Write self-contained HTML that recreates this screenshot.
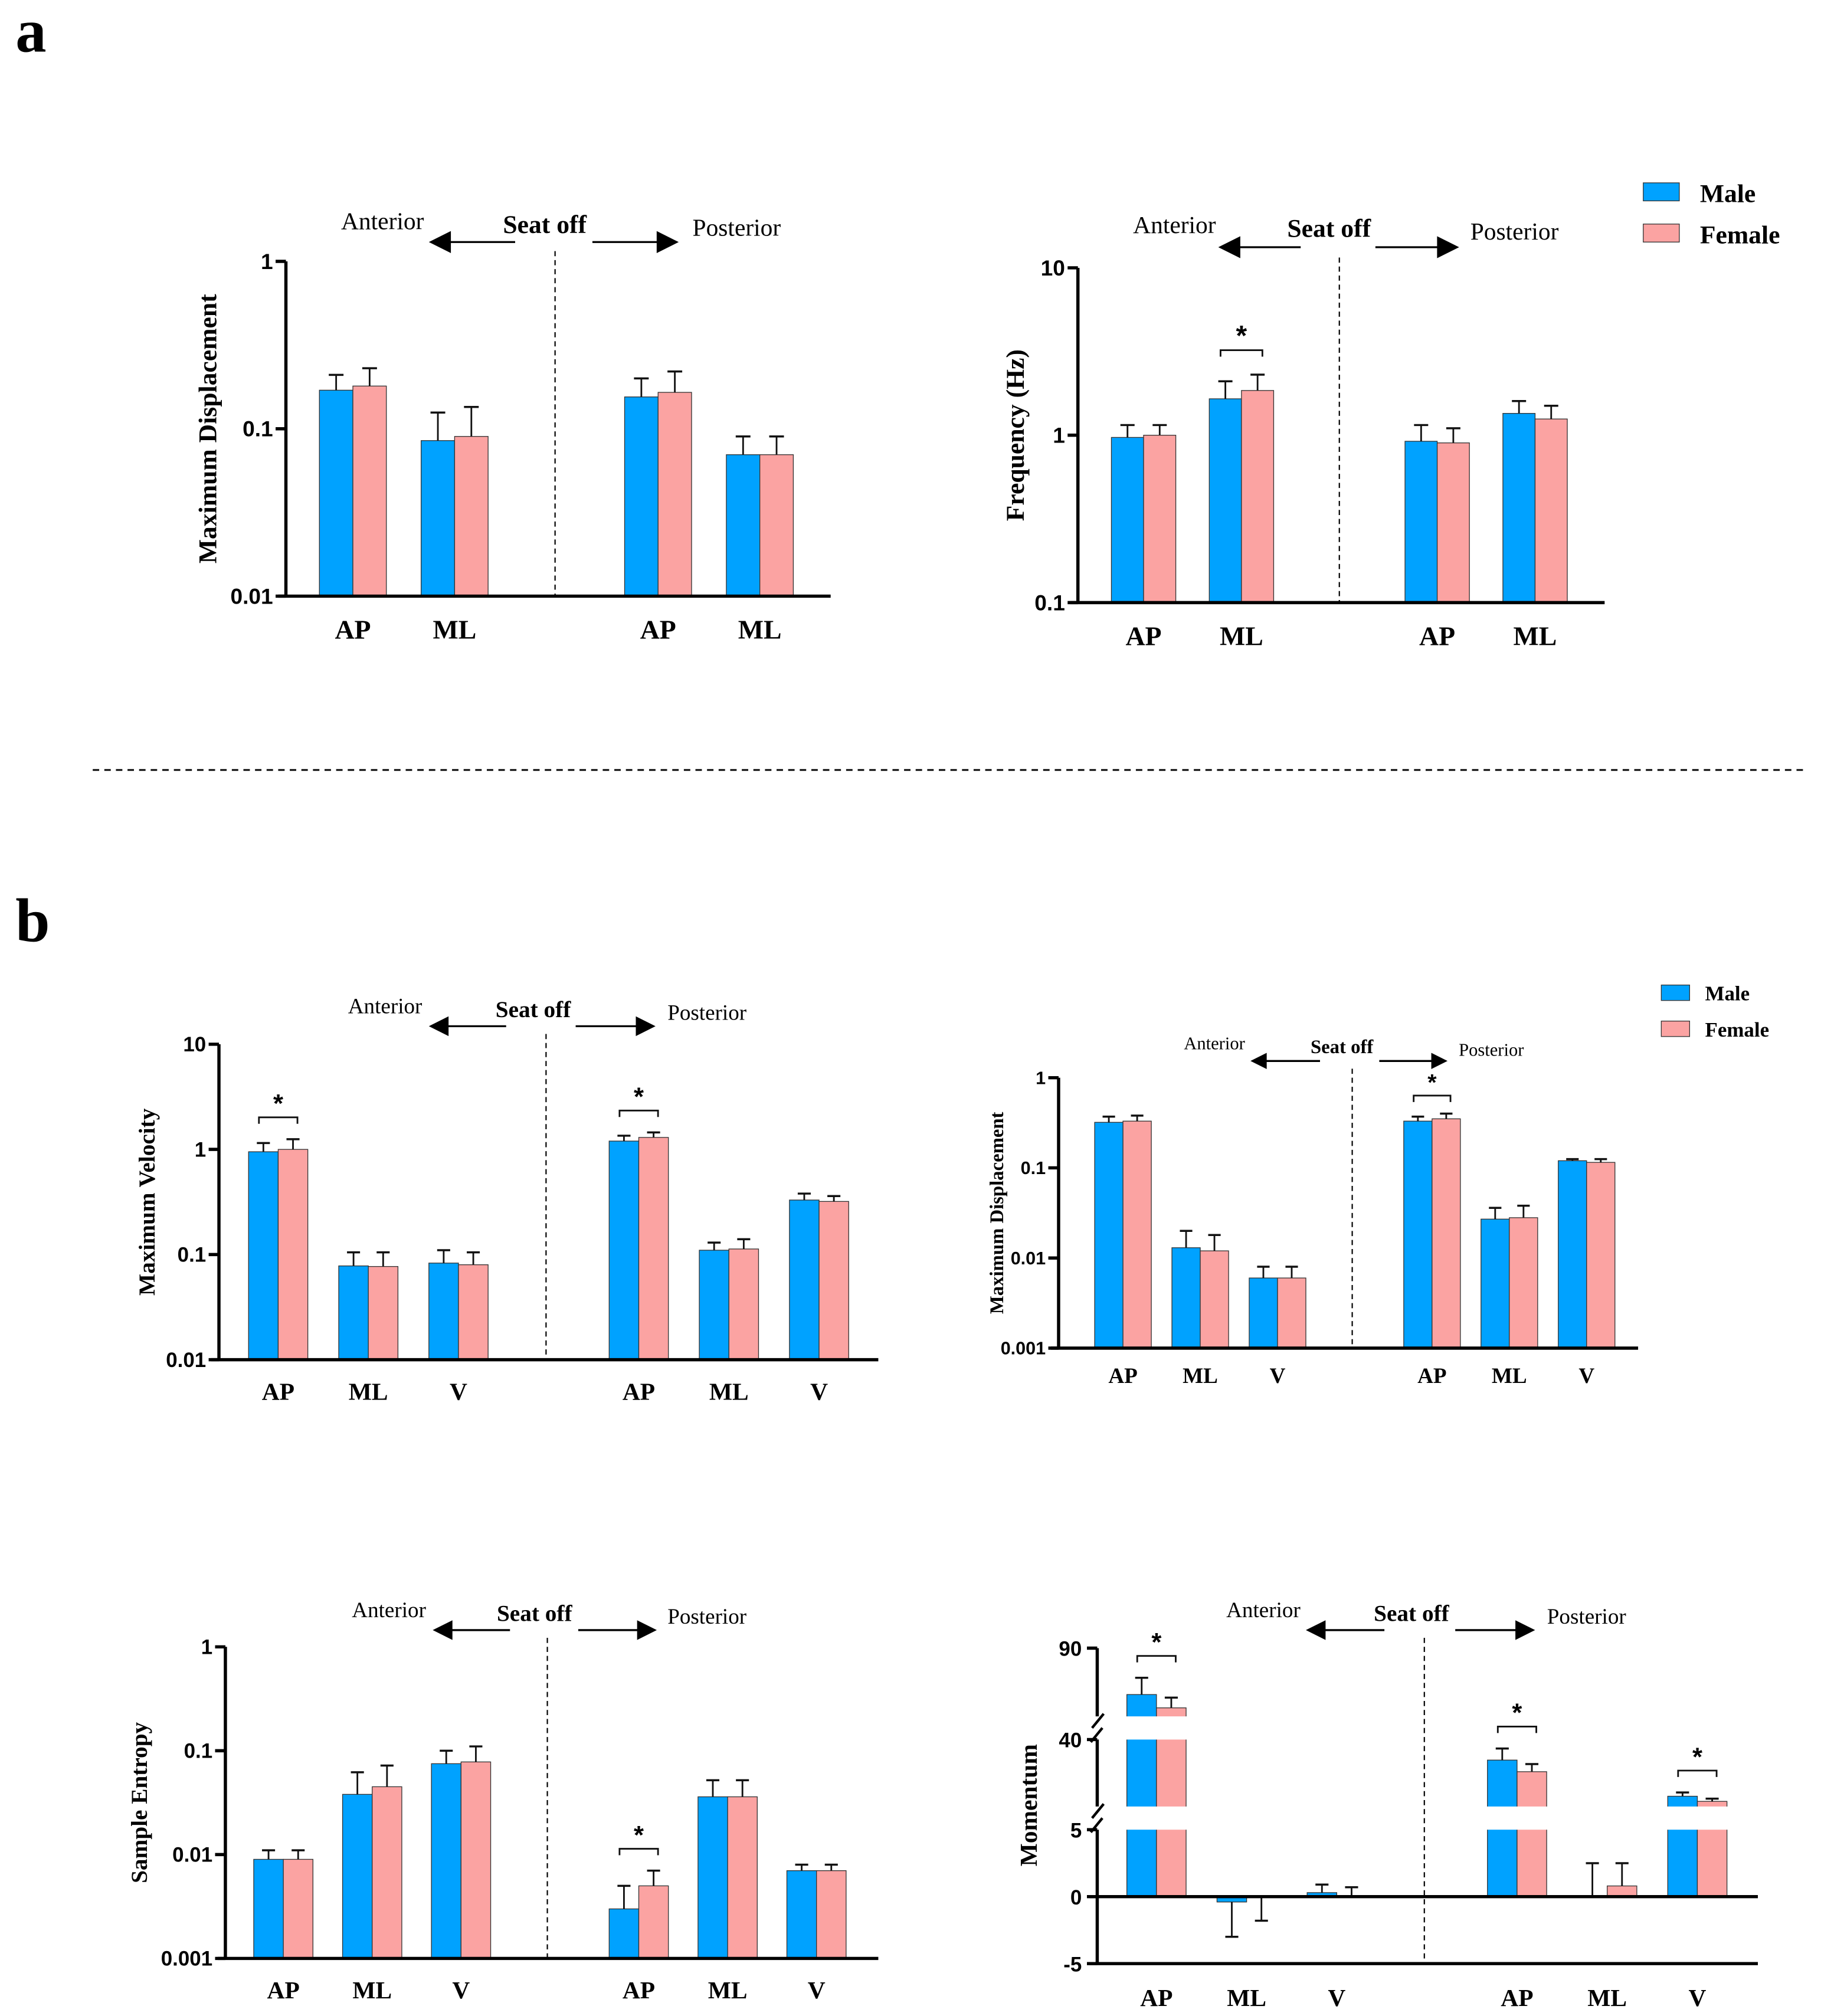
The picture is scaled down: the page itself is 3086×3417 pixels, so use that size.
<!DOCTYPE html>
<html><head><meta charset="utf-8"><style>
html,body{margin:0;padding:0;background:#fff;}
svg{display:block;}
text{font-family:"Liberation Serif",serif;fill:#000;}
.sans{font-family:"Liberation Sans",sans-serif;font-weight:bold;}
</style></head><body>
<svg id="fig" xmlns="http://www.w3.org/2000/svg" width="3086" height="3417" viewBox="0 0 1414 1565.7">
<rect x="0" y="0" width="1414" height="1566" fill="#fff"/>
<text x="12" y="40" font-size="48" font-weight="bold">a</text>
<text x="12" y="731" font-size="48" font-weight="bold">b</text>
<line x1="72" y1="598" x2="1400" y2="598" stroke="#000" stroke-width="1.3" stroke-dasharray="5,4"/>
<g>
<rect x="1276" y="142" width="28" height="14" fill="#00A2FF" stroke="#333" stroke-width="0.6"/>
<text x="1320" y="157" font-size="20" font-weight="bold">Male</text>
<rect x="1276" y="174" width="28" height="14" fill="#FBA3A2" stroke="#333" stroke-width="0.6"/>
<text x="1320" y="189" font-size="20" font-weight="bold">Female</text>
</g>
<g>
<rect x="1290" y="765" width="22" height="12" fill="#00A2FF" stroke="#333" stroke-width="0.6"/>
<text x="1324" y="777" font-size="16" font-weight="bold">Male</text>
<rect x="1290" y="793" width="22" height="12" fill="#FBA3A2" stroke="#333" stroke-width="0.6"/>
<text x="1324" y="805" font-size="16" font-weight="bold">Female</text>
</g>
</svg>
<script>
// ---- data ----
const catsA = ["AP","ML","AP","ML"];
const catsB = ["AP","ML","V","AP","ML","V"];

const maleA1 = [0.17, 0.085, 0.155, 0.07];
const femaleA1 = [0.18, 0.09, 0.165, 0.07];
const maleErrA1 = [0.21, 0.125, 0.2, 0.09];
const femaleErrA1 = [0.23, 0.135, 0.22, 0.09];
const starsA1 = [];

const maleA2 = [0.97, 1.65, 0.92, 1.35];
const femaleA2 = [1.0, 1.85, 0.9, 1.25];
const maleErrA2 = [1.15, 2.1, 1.15, 1.6];
const femaleErrA2 = [1.15, 2.3, 1.1, 1.5];
const starsA2 = [1];

const maleB1 = [0.95, 0.078, 0.083, 1.2, 0.11, 0.33];
const femaleB1 = [1.0, 0.077, 0.08, 1.3, 0.113, 0.32];
const maleErrB1 = [1.15, 0.105, 0.11, 1.35, 0.13, 0.38];
const femaleErrB1 = [1.25, 0.105, 0.105, 1.45, 0.14, 0.36];
const starsB1 = [0, 3];

const maleB2 = [0.32, 0.013, 0.006, 0.33, 0.027, 0.12];
const femaleB2 = [0.33, 0.012, 0.006, 0.35, 0.028, 0.115];
const maleErrB2 = [0.37, 0.02, 0.008, 0.37, 0.036, 0.125];
const femaleErrB2 = [0.38, 0.018, 0.008, 0.4, 0.038, 0.125];
const starsB2 = [3];

const maleB3 = [0.009, 0.038, 0.075, 0.003, 0.036, 0.007];
const femaleB3 = [0.009, 0.045, 0.078, 0.005, 0.036, 0.007];
const maleErrB3 = [0.011, 0.062, 0.1, 0.005, 0.052, 0.008];
const femaleErrB3 = [0.011, 0.072, 0.11, 0.007, 0.052, 0.008];
const starsB3 = [3];

const maleB4 = [62.8, -0.4, 0.3, 30.8, 0.05, 14.6];
const femaleB4 = [55, 0, 0, 25.6, 0.8, 12.3];
const maleErrB4 = [72.6, -3, 0.9, 36, 2.5, 16.3];
const femaleErrB4 = [61, -1.8, 0.7, 29, 2.5, 13.5];
const starsB4 = [0, 3, 5];
const ticksB4 = [90, 40, 5, 0, -5];

const logTicksA1 = ["1","0.1","0.01"];
const logTicksA2 = ["10","1","0.1"];
const logTicksB1 = ["10","1","0.1","0.01"];
const logTicksB2 = ["1","0.1","0.01","0.001"];
const logTicksB3 = ["1","0.1","0.01","0.001"];

// ---- drawing ----
const NS = "http://www.w3.org/2000/svg";
const svg = document.getElementById("fig");
function el(tag, attrs, parent, txt){
  const e = document.createElementNS(NS, tag);
  for (const k in attrs) e.setAttribute(k, attrs[k]);
  if (txt !== undefined) e.textContent = txt;
  (parent||svg).appendChild(e);
  return e;
}
const BLUE="#00A2FF", PINK="#FBA3A2";

function logScale(yTop, yBot, vmax, vmin){
  const a=Math.log10(vmax), b=Math.log10(vmin);
  return v => yBot - (Math.log10(v)-b)/(a-b)*(yBot-yTop);
}
function centerOf(c,i){ return c.start+i*c.step+(i>=c.cats.length/2?c.step:0); }

function drawHeader(g, c){
  const fs=c.hfs, y=c.hy;
  const t1=el("text",{x:c.antX,y:y,"font-size":fs,"text-anchor":"middle"},g,"Anterior");
   
  const t2=el("text",{x:c.seatX,y:y+3,"font-size":fs+1,"font-weight":"bold","text-anchor":"middle"},g,"Seat off");
   
  const t3=el("text",{x:c.postX,y:y+5,"font-size":fs,"text-anchor":"middle"},g,"Posterior");
   
  const ay=c.arrY, ah=fs*0.45;
  const l1=el("line",{x1:c.aL1,y1:ay,x2:c.aL2+ah*1.8,y2:ay,stroke:"#000","stroke-width":1.5},g);
   
  el("polygon",{points:`${c.aL2},${ay} ${c.aL2+ah*2},${ay-ah} ${c.aL2+ah*2},${ay+ah}`,fill:"#000"},g);
  const l2=el("line",{x1:c.aR1,y1:ay,x2:c.aR2-ah*1.8,y2:ay,stroke:"#000","stroke-width":1.5},g);
   
  el("polygon",{points:`${c.aR2},${ay} ${c.aR2-ah*2},${ay-ah} ${c.aR2-ah*2},${ay+ah}`,fill:"#000"},g);
}

function drawBarsAndErr(g, c, yv, zeroY, i){
  const cx=centerOf(c,i);
  const bw=c.bw;
  [[c.male,c.mErr,BLUE,cx-bw,'male'],[c.female,c.fErr,PINK,cx,'female']].forEach(([vals,errs,col,x,who])=>{
    const v=vals[i], e=errs[i];
    const vy=yv(v);
    const top=Math.min(vy,zeroY), h=Math.abs(zeroY-vy);
    const r=el("rect",{x:x,y:top,width:bw,height:Math.max(h,0.01),fill:col,stroke:"#333","stroke-width":0.6},g);
    
    
    const ey=yv(e), mx=x+bw/2;
    const ln=el("line",{x1:mx,y1:vy,x2:mx,y2:ey,stroke:"#111","stroke-width":1.3},g);
    
    
    el("line",{x1:mx-bw*0.22,y1:ey,x2:mx+bw*0.22,y2:ey,stroke:"#111","stroke-width":1.6},g);
  });
  return cx;
}

function drawStar(g, c, yv, i, cx){
  const top=Math.min(yv(c.mErr[i]),yv(c.fErr[i]));
  const by=top-c.starOff;
  const half=c.bw*0.65;
  const p=el("path",{d:`M${cx-half},${by+5}V${by}H${cx+half}V${by+5}`,fill:"none",stroke:"#111","stroke-width":1.3},g);
   
  const s=el("text",{x:cx,y:by-4,"font-size":c.starFs,"font-weight":"bold","text-anchor":"middle",class:"sans"},g,"*");
   
}

function drawLogChart(c){
  const g=el("g",{});
   
  const yv=logScale(c.yTop,c.yBot,c.vmax,c.vmin);
  const d=el("line",{x1:c.div,y1:c.divTop,x2:c.div,y2:c.yBot,stroke:"#000","stroke-width":1,"stroke-dasharray":"4,3"},g);
   
  c.cats.forEach((cat,i)=>{
    const cx=drawBarsAndErr(g,c,yv,c.yBot,i);
    const t=el("text",{x:cx,y:c.yBot+c.labOff,"font-size":c.labFs,"font-weight":"bold","text-anchor":"middle"},g,cat);
     
    if (c.stars.includes(i)) drawStar(g,c,yv,i,cx);
  });
  const ya=el("line",{x1:c.x0,y1:c.yTop,x2:c.x0,y2:c.yBot,stroke:"#000","stroke-width":2.5},g);
   
  const xa=el("line",{x1:c.x0-6,y1:c.yBot,x2:c.x1,y2:c.yBot,stroke:"#000","stroke-width":2.5},g);
   
  c.ticks.forEach(t=>{
    const y=yv(parseFloat(t));
    el("line",{x1:c.x0-8,y1:y,x2:c.x0,y2:y,stroke:"#000","stroke-width":2.5},g);
    const tx=el("text",{x:c.x0-10,y:y+c.tickFs*0.35,"font-size":c.tickFs,"text-anchor":"end",class:"sans"},g,t);
     
  });
  const yt=el("text",{x:c.titleX,y:(c.yTop+c.yBot)/2,"font-size":c.titleFs,"font-weight":"bold","text-anchor":"middle",transform:`rotate(-90 ${c.titleX} ${(c.yTop+c.yBot)/2})`},g,c.title);
   
  drawHeader(g,c);
}

drawLogChart({name:"chart-a-displacement",cats:catsA,male:maleA1,female:femaleA1,mErr:maleErrA1,fErr:femaleErrA1,stars:starsA1,
  x0:222,x1:645,yTop:203,yBot:463,vmax:1,vmin:0.01,ticks:logTicksA1,start:274,step:79,bw:26,div:431,divTop:195,
  labOff:33,labFs:21,tickFs:17,title:"Maximum Displacement",titleX:168,titleFs:20,starOff:19,starFs:22,
  hfs:19,hy:178,antX:297,seatX:423,postX:572,arrY:188,aL1:400,aL2:333,aR1:460,aR2:527});
drawLogChart({name:"chart-a-frequency",cats:catsA,male:maleA2,female:femaleA2,mErr:maleErrA2,fErr:femaleErrA2,stars:starsA2,
  x0:837,x1:1246,yTop:208,yBot:468,vmax:10,vmin:0.1,ticks:logTicksA2,start:888,step:76,bw:25,div:1040,divTop:200,
  labOff:33,labFs:21,tickFs:17,title:"Frequency (Hz)",titleX:795,titleFs:20,starOff:19,starFs:22,
  hfs:19,hy:181,antX:912,seatX:1032,postX:1176,arrY:192,aL1:1010,aL2:946,aR1:1068,aR2:1133});
drawLogChart({name:"chart-b-max-velocity",cats:catsB,male:maleB1,female:femaleB1,mErr:maleErrB1,fErr:femaleErrB1,stars:starsB1,
  x0:170,x1:682,yTop:811,yBot:1056,vmax:10,vmin:0.01,ticks:logTicksB1,start:216,step:70,bw:23,div:424,divTop:803,
  labOff:31,labFs:19,tickFs:16,title:"Maximum Velocity",titleX:120,titleFs:18,starOff:17,starFs:20,
  hfs:17,hy:787,antX:299,seatX:414,postX:549,arrY:797,aL1:393,aL2:333,aR1:447,aR2:509});
drawLogChart({name:"chart-b-max-displacement",cats:catsB,male:maleB2,female:femaleB2,mErr:maleErrB2,fErr:femaleErrB2,stars:starsB2,
  x0:822,x1:1272,yTop:837,yBot:1047,vmax:1,vmin:0.001,ticks:logTicksB2,start:872,step:60,bw:22,div:1050,divTop:830,
  labOff:27,labFs:17,tickFs:14,title:"Maximum Displacement",titleX:779,titleFs:15,starOff:14,starFs:18,
  hfs:14,hy:815,antX:943,seatX:1042,postX:1158,arrY:824,aL1:1025,aL2:971,aR1:1071,aR2:1124});
drawLogChart({name:"chart-b-sample-entropy",cats:catsB,male:maleB3,female:femaleB3,mErr:maleErrB3,fErr:femaleErrB3,stars:starsB3,
  x0:175,x1:682,yTop:1279,yBot:1521,vmax:1,vmin:0.001,ticks:logTicksB3,start:220,step:69,bw:23,div:425,divTop:1272,
  labOff:31,labFs:19,tickFs:16,title:"Sample Entropy",titleX:114,titleFs:18,starOff:17,starFs:20,
  hfs:17,hy:1256,antX:302,seatX:415,postX:549,arrY:1266,aL1:396,aL2:336,aR1:449,aR2:510});

// ---- momentum broken-axis chart ----
(function(){
  const c={name:"chart-b-momentum",cats:catsB,male:maleB4,female:femaleB4,mErr:maleErrB4,fErr:femaleErrB4,
    start:898,step:70,bw:23,starOff:17,starFs:20,x0:852,x1:1365,
    hfs:17,hy:1256,antX:981,seatX:1096,postX:1232,arrY:1266,aL1:1075,aL2:1014,aR1:1130,aR2:1192};
  const segs=[{lo:-5,hi:5,yLo:1525,yHi:1421},{lo:10,hi:40,yLo:1403,yHi:1351},{lo:50,hi:90,yLo:1333,yHi:1280}];
  function yv(v){
    for (let k=segs.length-1;k>=0;k--){
      const s=segs[k];
      if (v>=s.lo || k===0){ const vv=Math.min(v,s.hi); return s.yLo-(vv-s.lo)/(s.hi-s.lo)*(s.yLo-s.yHi); }
    }
  }
  const g=el("g",{});
   
  const zeroY=yv(0);
  c.cats.forEach((cat,i)=>{ drawBarsAndErr(g,c,yv,zeroY,i); });
  [[1421,1403],[1351,1333]].forEach(([a,b])=>{
    const w=el("rect",{x:c.x0+2,y:b,width:c.x1-c.x0,height:a-b,fill:"#fff"},g);
     
  });
  const d=el("line",{x1:1106,y1:1272,x2:1106,y2:1525,stroke:"#000","stroke-width":1,"stroke-dasharray":"4,3"},g);
   
  c.cats.forEach((cat,i)=>{
    const cx=centerOf(c,i);
    const t=el("text",{x:cx,y:1558,"font-size":19,"font-weight":"bold","text-anchor":"middle"},g,cat);
     
    if (starsB4.includes(i)) drawStar(g,c,yv,i,cx);
  });
  segs.forEach((s,k)=>{
    const l=el("line",{x1:c.x0,y1:s.yHi,x2:c.x0,y2:s.yLo,stroke:"#000","stroke-width":2.5},g);
     
  });
  [[1421,1403],[1351,1333]].forEach(([a,b])=>{
    el("line",{x1:c.x0-5,y1:a+2,x2:c.x0+4,y2:a-9,stroke:"#000","stroke-width":2},g);
    el("line",{x1:c.x0-4,y1:b+9,x2:c.x0+5,y2:b-2,stroke:"#000","stroke-width":2},g);
  });
  const za=el("line",{x1:c.x0-6,y1:zeroY,x2:c.x1,y2:zeroY,stroke:"#000","stroke-width":2.5},g);
   
  const xa=el("line",{x1:c.x0-6,y1:1525,x2:c.x1,y2:1525,stroke:"#000","stroke-width":2.5},g);
   
  ticksB4.forEach(t=>{
    const y=yv(t);
    el("line",{x1:c.x0-8,y1:y,x2:c.x0,y2:y,stroke:"#000","stroke-width":2.5},g);
    const tx=el("text",{x:c.x0-12,y:y+6,"font-size":16,"text-anchor":"end",class:"sans"},g,String(t));
     
  });
  const yt=el("text",{x:805,y:1402,"font-size":19,"font-weight":"bold","text-anchor":"middle",transform:"rotate(-90 805 1402)"},g,"Momentum");
   
  drawHeader(g,c);
})();
</script>
</body></html>
